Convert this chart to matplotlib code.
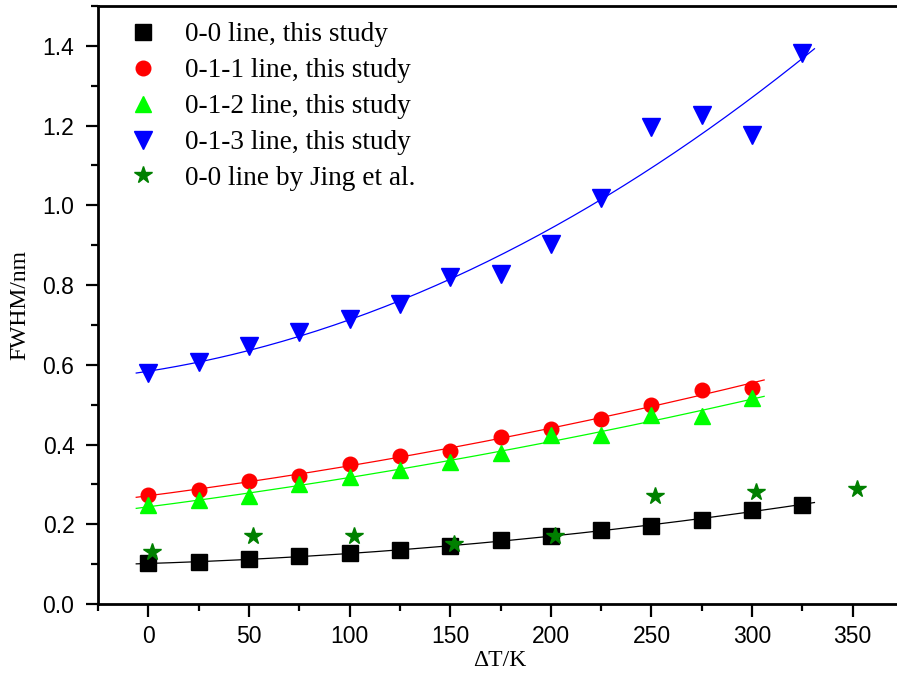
import numpy as np
import matplotlib.pyplot as plt

# data
t00 = [0, 25, 50, 75, 100, 125, 150, 175, 200, 225, 250, 275, 300, 325]
w00 = [0.102, 0.105, 0.112, 0.120, 0.127, 0.135, 0.145, 0.160, 0.170, 0.186, 0.196, 0.210, 0.237, 0.249]

t011 = [0, 25, 50, 75, 100, 125, 150, 175, 200, 225, 250, 275, 300]
w011 = [0.273, 0.287, 0.309, 0.322, 0.350, 0.371, 0.383, 0.418, 0.439, 0.465, 0.500, 0.538, 0.543]

t012 = [0, 25, 50, 75, 100, 125, 150, 175, 200, 225, 250, 275, 300]
w012 = [0.248, 0.260, 0.270, 0.302, 0.319, 0.335, 0.356, 0.379, 0.424, 0.423, 0.473, 0.471, 0.517]

t013 = [0, 25, 50, 75, 100, 125, 150, 175, 200, 225, 250, 275, 300, 325]
w013 = [0.579, 0.608, 0.648, 0.682, 0.715, 0.752, 0.819, 0.827, 0.903, 1.018, 1.197, 1.226, 1.176, 1.381]

tj = [2, 52, 102, 152, 202, 252, 302, 352]
wj = [0.131, 0.170, 0.171, 0.150, 0.171, 0.270, 0.281, 0.288]

series = [
    (t00, w00, 's', 'black', 11, '0-0 line, this study'),
    (t011, w011, 'o', 'red', 10.5, '0-1-1 line, this study'),
    (t012, w012, '^', '#00ff00', 12, '0-1-2 line, this study'),
    (t013, w013, 'v', 'blue', 12.5, '0-1-3 line, this study'),
]

fig = plt.figure(figsize=(8.97, 6.93), dpi=100)
ax = fig.add_axes([98 / 897, 1 - 604 / 693, 805 / 897, 598 / 693])

for t, w, m, c, ms, lab in series:
    ax.plot(t, w, m, color=c, ms=ms, mec=c, linestyle='none', label=lab)
    # polynomial fit like the original
    p = np.polyfit(t, w, 2)
    xf = np.linspace(min(t) - 6, max(t) + 6, 200)
    ax.plot(xf, np.polyval(p, xf), '-', color=c, lw=0.9)

ax.plot(tj, wj, '*', color='green', ms=13, mec='green', linestyle='none',
        label='0-0 line by Jing et al.')

ax.set_xlim(-25, 375)
ax.set_ylim(0, 1.5)
ax.set_xticks(np.arange(0, 351, 50))
ax.set_xticks(np.arange(-25, 376, 25), minor=True)
ax.set_yticks(np.arange(0, 1.41, 0.2))
ax.set_yticks(np.arange(0, 1.51, 0.1), minor=True)
ax.set_yticklabels(['%.1f' % v for v in np.arange(0, 1.41, 0.2)])

for s in ax.spines.values():
    s.set_linewidth(2)
ax.tick_params(which='major', direction='out', length=9, width=1.6,
               labelsize=16.5)
ax.tick_params(axis='y', which='major', pad=8)
ax.tick_params(axis='x', which='major', pad=6)
ax.tick_params(which='minor', direction='out', length=5, width=1.6)
for lb in ax.get_xticklabels() + ax.get_yticklabels():
    lb.set_family('Liberation Sans')

ax.set_xlabel('ΔT/K', family='Liberation Serif', fontsize=17)
ax.set_ylabel('FWHM/nm', family='Liberation Serif', fontsize=17)
ax.xaxis.label.set_va('center')
ax.yaxis.label.set_va('center')
ax.xaxis.set_label_coords(0.4994, -0.094)
ax.yaxis.set_label_coords(-0.097, 0.5)

ax.legend(loc='upper left', bbox_to_anchor=(0.022, 0.973), frameon=False,
          numpoints=1, handlelength=2.0, handletextpad=0.55, borderpad=0,
          borderaxespad=0, labelspacing=0.4,
          prop={'family': 'Liberation Serif', 'size': 19.6})

fig.savefig('out.png', dpi=100)
